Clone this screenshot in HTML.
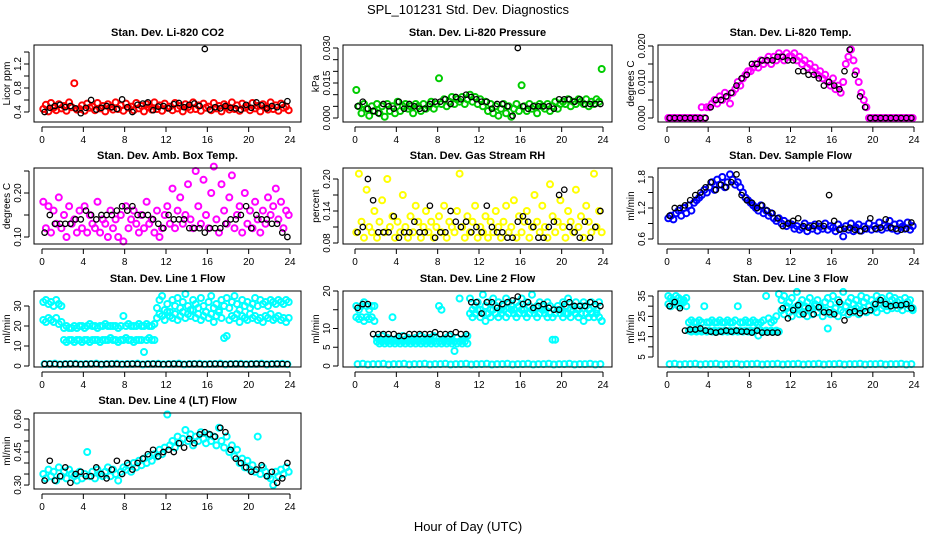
<!DOCTYPE html>
<html><head><meta charset="utf-8"><style>
body{margin:0;background:#fff}
svg{display:block;font-family:"Liberation Sans",Arial,sans-serif}
</style></head><body>
<svg id="chart" width="936" height="540" viewBox="0 0 936 540" xmlns="http://www.w3.org/2000/svg">
<text x="468" y="14" text-anchor="middle" font-size="13">SPL_101231  Std. Dev. Diagnostics</text>
<text x="468" y="531" text-anchor="middle" font-size="13">Hour of Day (UTC)</text>
</svg>
<script>
const xTicks=[0,4,8,12,16,20,24];
// Panel 1 CO2
const co2Col=[0.45,0.52,0.41,0.55,0.47,0.43,0.53,0.46,0.50,0.42,0.56,0.48,0.88,0.44,0.45,0.51,0.42,0.54,0.47,0.49,0.43,0.55,0.46,0.50,0.41,0.53,0.48,0.44,0.56,0.45,0.51,0.42,0.54,0.47,0.49,0.43,0.55,0.46,0.50,0.41,0.53,0.48,0.44,0.56,0.45,0.51,0.42,0.54,0.47,0.49,0.43,0.55,0.46,0.50,0.41,0.53,0.48,0.44,0.56,0.45,0.51,0.42,0.54,0.47,0.49,0.43,0.55,0.46,0.50,0.41,0.53,0.48,0.44,0.56,0.45,0.51,0.42,0.54,0.47,0.49,0.43,0.55,0.46,0.50,0.41,0.53,0.48,0.44,0.56,0.45,0.51,0.42,0.54,0.47,0.49,0.43];
const co2Blk=[0.40,0.47,0.50,0.52,0.48,0.50,0.46,0.38,0.47,0.60,0.44,0.47,0.50,0.48,0.45,0.61,0.48,0.40,0.52,0.54,0.56,0.43,0.49,0.50,0.46,0.53,0.55,0.48,0.52,0.54,0.50,1.45,0.44,0.48,0.46,0.50,0.47,0.46,0.44,0.52,0.47,0.56,0.51,0.46,0.50,0.48,0.52,0.58];
// Panel 2 pressure
const presCol=[0.012,0.005,0.002,0.006,0.004,0.001,0.005,0.003,0.006,0.002,0.005,0.0005,0.006,0.003,0.005,0.002,0.007,0.003,0.005,0.006,0.004,0.005,0.002,0.006,0.005,0.003,0.006,0.004,0.005,0.007,0.004,0.006,0.017,0.006,0.008,0.005,0.007,0.009,0.006,0.008,0.007,0.009,0.006,0.008,0.010,0.007,0.009,0.006,0.008,0.005,0.007,0.003,0.006,0.002,0.005,0.001,0.004,0.006,0.002,0.005,0.0005,0.004,0.006,0.003,0.014,0.005,0.003,0.006,0.004,0.005,0.002,0.006,0.005,0.004,0.006,0.003,0.005,0.007,0.004,0.006,0.007,0.006,0.008,0.005,0.007,0.006,0.008,0.007,0.006,0.008,0.005,0.007,0.006,0.008,0.007,0.021];
const presBlk=[0.005,0.007,0.004,0.003,0.002,0.006,0.005,0.004,0.007,0.004,0.006,0.005,0.004,0.004,0.006,0.007,0.007,0.008,0.006,0.009,0.008,0.010,0.009,0.008,0.007,0.007,0.004,0.006,0.006,0.005,0.001,0.030,0.005,0.004,0.005,0.005,0.005,0.005,0.004,0.008,0.008,0.008,0.007,0.008,0.006,0.006,0.006,0.006];
// Panel 3 Li-820 temp
const tempCol=[0,0,0,0,0,0,0,0,0,0,0,0,0,0.003,0,0.003,0.003,0.004,0.005,0.004,0.006,0.005,0.007,0.006,0.004,0.007,0.008,0.010,0.009,0.011,0.012,0.013,0.013,0.014,0.015,0.014,0.016,0.015,0.016,0.017,0.015,0.017,0.016,0.018,0.017,0.016,0.018,0.017,0.017,0.018,0.016,0.017,0.015,0.016,0.014,0.015,0.013,0.014,0.012,0.013,0.011,0.012,0.010,0.009,0.011,0.008,0.009,0.007,0.010,0.015,0.017,0.019,0.016,0.013,0.010,0.007,0.005,0.003,0,0,0,0,0,0,0,0,0,0,0,0,0,0,0,0,0,0];
const tempBlk=[0,0,0,0,0,0,0,0,0.003,0.005,0.005,0.006,0.007,0.009,0.011,0.012,0.015,0.015,0.016,0.016,0.016,0.017,0.017,0.016,0.016,0.013,0.013,0.012,0.012,0.011,0.009,0.010,0.009,0.008,0.013,0.019,0.012,0.006,0.003,0,0,0,0,0,0,0,0,0];
// Panel 4 amb box temp
const ambCol=[0.18,0.12,0.17,0.11,0.16,0.13,0.19,0.12,0.15,0.10,0.17,0.13,0.14,0.11,0.16,0.12,0.17,0.11,0.15,0.13,0.12,0.18,0.11,0.14,0.13,0.10,0.16,0.12,0.14,0.10,0.15,0.09,0.17,0.12,0.14,0.16,0.13,0.11,0.15,0.12,0.18,0.13,0.14,0.11,0.16,0.10,0.12,0.15,0.17,0.13,0.21,0.12,0.16,0.19,0.13,0.15,0.22,0.14,0.12,0.25,0.17,0.13,0.23,0.15,0.12,0.20,0.26,0.14,0.11,0.22,0.16,0.13,0.19,0.24,0.12,0.15,0.17,0.11,0.20,0.13,0.16,0.12,0.18,0.14,0.11,0.16,0.13,0.19,0.15,0.17,0.21,0.14,0.18,0.12,0.16,0.15];
const ambBlk=[0.11,0.15,0.13,0.13,0.13,0.13,0.14,0.14,0.16,0.15,0.14,0.15,0.15,0.15,0.16,0.17,0.16,0.17,0.15,0.15,0.15,0.14,0.13,0.12,0.15,0.14,0.14,0.14,0.12,0.12,0.12,0.11,0.12,0.12,0.12,0.13,0.14,0.14,0.15,0.17,0.12,0.15,0.14,0.14,0.13,0.13,0.11,0.10];
// Panel 5 RH
const rhCol=[0.10,0.21,0.12,0.09,0.18,0.11,0.10,0.14,0.09,0.12,0.16,0.10,0.20,0.11,0.13,0.09,0.12,0.10,0.17,0.11,0.09,0.13,0.10,0.15,0.12,0.09,0.11,0.14,0.10,0.12,0.09,0.11,0.13,0.10,0.15,0.09,0.12,0.11,0.10,0.14,0.21,0.11,0.09,0.13,0.10,0.12,0.15,0.09,0.11,0.10,0.13,0.09,0.12,0.10,0.14,0.11,0.09,0.12,0.15,0.10,0.11,0.16,0.09,0.13,0.10,0.12,0.14,0.09,0.11,0.17,0.12,0.10,0.15,0.11,0.09,0.19,0.13,0.10,0.12,0.16,0.11,0.09,0.14,0.12,0.10,0.18,0.11,0.13,0.09,0.15,0.12,0.10,0.21,0.11,0.14,0.10];
const rhBlk=[0.10,0.11,0.20,0.16,0.10,0.10,0.10,0.13,0.09,0.10,0.10,0.12,0.10,0.10,0.15,0.09,0.10,0.10,0.14,0.12,0.11,0.12,0.10,0.11,0.10,0.15,0.11,0.10,0.10,0.09,0.09,0.12,0.13,0.12,0.11,0.09,0.09,0.11,0.12,0.17,0.18,0.11,0.10,0.09,0.12,0.09,0.11,0.14];
// Panel 6 sample flow
const sfCol=[1.0,1.05,0.98,1.1,1.15,1.05,1.2,1.1,1.25,1.15,1.3,1.35,1.4,1.45,1.55,1.5,1.6,1.7,1.55,1.75,1.65,1.8,1.6,1.7,1.85,1.75,1.65,1.7,1.6,1.5,1.4,1.35,1.3,1.25,1.2,1.15,1.25,1.1,1.15,1.05,1.1,1.0,0.95,1.0,0.9,0.95,0.85,0.9,0.88,0.8,0.85,0.78,0.82,0.9,0.75,0.85,0.8,0.88,0.76,0.84,0.8,0.9,0.78,0.85,0.82,0.75,0.88,0.8,0.65,0.85,0.78,0.9,0.75,0.82,0.88,0.76,0.84,0.8,0.9,0.78,0.85,0.8,0.92,0.78,0.86,0.82,0.95,0.8,0.88,0.76,0.9,0.84,0.8,0.92,0.78,0.85];
const sfBlk=[1.05,1.2,1.2,1.25,1.35,1.45,1.5,1.6,1.7,1.55,1.65,1.6,1.7,1.85,1.45,1.35,1.3,1.2,1.25,1.15,1.1,1.0,0.85,0.9,0.95,1.0,0.85,0.82,0.85,0.9,0.85,1.45,0.95,0.78,0.8,0.82,0.78,0.75,0.8,1.0,0.8,0.82,0.98,0.82,0.8,0.78,0.8,0.92];
// Panel 7 line 1
const l1Hi=[32,33,31,32,30,33,31,30,19,20,19,19,20,19,20,20,19,20,21,20,20,19,20,20,21,20,20,20,20,19,20,25,20,21,20,20,20,21,20,20,21,20,20,21,29,33,35,28,31,27,33,30,34,29,32,36,30,28,33,31,29,34,30,27,32,35,29,31,28,33,30,34,29,32,35,31,28,33,30,32,29,31,34,30,33,31,32,30,33,32,31,33,32,31,33,32];
const l1Lo=[23,22,24,23,22,24,21,22,13,12,13,13,12,13,13,12,13,13,12,13,13,13,12,13,13,13,14,13,13,12,13,13,14,13,13,12,13,13,13,7,13,14,13,13,24,26,25,23,27,25,24,26,23,25,27,24,26,25,28,24,26,23,25,27,24,26,22,25,27,24,14,15,23,25,24,26,22,25,24,23,26,24,25,23,24,22,25,24,26,23,24,25,23,24,22,24];
const l1Base=[1,1,1.2,0.8,1,1,1.1,0.9,1,1,1.2,0.8,1,1,1.1,0.9,1,1,1.2,0.8,1,1,1.1,0.9,1,1,1.2,0.8,1,1,1.1,0.9,1,1,1.2,0.8,1,1,1.1,0.9,1,1,1.2,0.8,1,1,1.1,0.9];
const l1Blk=[1,1.1,1,0.9,1,1.1,1,0.9,1,1.1,1,0.9,1,1.1,1,0.9,1,1.1,1,0.9,1,1.1,1,0.9,1,1.1,1,0.9,1,1.1,1,0.9,1,1.1,1,0.9,1,1.1,1,0.9,1,1.1,1,0.9,1,1.1,1,0.9];
// Panel 8 line 2
const l2Hi=[16,15,16,17,16,15,16,16,7.5,7,8,7,7.5,7,13,7,7.5,7,8,7,7.5,7,7,7.5,7,8,7.5,7,7.5,7,8,7.5,16,15,7,7.5,8,7,4,7.5,18,7,7.5,8,18,15,16,17,15,19,16,17,15,18,16,17,15,16,18,17,16,15,17,16,18,15,17,16,19,15,16,17,16,15,17,16,7,7,16,15,17,16,18,15,16,17,15,16,17,16,15,17,16,15,17,12];
const l2Lo=[13,12.5,13,12,13,12.5,13,12,6.5,6,6.5,6,6.5,6,6.5,6,6.5,6,6.5,6,6.5,6,6.5,6,6.5,6,6.5,6,6.5,6,6.5,6,6.5,6,6.5,6,6.5,6,6.5,6,6.5,6,6.5,6,14,13,14,15,13,14,12,14,13,15,14,13,14,15,13,14,15,14,13,14,15,14,13,14,15,14,13,14,15,14,13,14,13,14,15,14,13,14,14,13,15,14,13,14,12,14,13,14,13,14,13,12];
const l2Base=[0.5,0.6,0.4,0.5,0.5,0.6,0.4,0.5,0.5,0.6,0.4,0.5,0.5,0.6,0.4,0.5,0.5,0.6,0.4,0.5,0.5,0.6,0.4,0.5,0.5,0.6,0.4,0.5,0.5,0.6,0.4,0.5,0.5,0.6,0.4,0.5,0.5,0.6,0.4,0.5,0.5,0.6,0.4,0.5,0.5,0.6,0.4,0.5];
const l2Blk=[15.5,16.5,16.5,8.5,8.5,8.5,8.5,8.5,8,8,8.5,8.5,8.5,8.5,8.5,9,8.5,8.5,8.5,9,8.5,8.5,17,17,14,17,17,15.5,16.5,17,17.5,18.5,16.5,17,15.5,16,16.5,15.5,15,15,16.5,17,16,16,16,17,16.5,16];
// Panel 9 line 3
const l3Hi=[35,34,33,35,34,33,32,34,22,23,22,22,23,22,30,22,22,23,22,22,23,22,22,23,22,22,23,30,22,22,23,22,22,23,22,21,22,23,35,24,22,23,25,36,33,35,30,32,34,29,37,31,33,30,32,34,29,31,33,30,28,32,34,31,35,29,33,31,37,30,32,34,31,33,30,35,32,34,30,33,31,35,33,34,32,30,35,33,34,32,33,31,34,32,33,29];
const l3Lo=[31,30,32,31,30,31,33,30,18,17.5,18,17.5,18,17.5,18,17.5,18,17.5,18,17.5,18,17.5,18,17.5,18,17.5,18,17.5,18,17.5,18,17.5,18,17.5,18,15.5,18,17.5,18,17.5,18,17.5,18,17.5,28,26,29,27,25,28,30,26,27,29,25,28,26,30,27,29,25,28,19,26,27,29,25,28,27,30,26,28,27,29,26,28,29,27,30,28,29,27,31,29,30,28,30,29,31,29,30,28,31,29,30,28];
const l3Base=[1.5,1.7,1.3,1.5,1.5,1.7,1.3,1.5,1.5,1.7,1.3,1.5,1.5,1.7,1.3,1.5,1.5,1.7,1.3,1.5,1.5,1.7,1.3,1.5,1.5,1.7,1.3,1.5,1.5,1.7,1.3,1.5,1.5,1.7,1.3,1.5,1.5,1.7,1.3,1.5,1.5,1.7,1.3,1.5,1.5,1.7,1.3,1.5];
const l3Blk=[30,32,29,18,18.5,18.5,19,18,17.5,17,17.5,18,17.5,18,17.5,17.5,17,18,17,17,17,17,29,24,28,30.5,26,29,26,29.5,27,27,26,32,23,27,27.5,26.5,27.5,28,31,33,31,30,30.5,30.5,31,29];
// Panel 10 line 4
const l4Col=[0.35,0.33,0.37,0.34,0.36,0.32,0.38,0.34,0.36,0.33,0.37,0.35,0.34,0.32,0.36,0.33,0.35,0.45,0.34,0.36,0.33,0.37,0.35,0.34,0.36,0.38,0.34,0.37,0.35,0.32,0.36,0.38,0.37,0.39,0.36,0.40,0.38,0.41,0.39,0.42,0.40,0.43,0.41,0.44,0.43,0.46,0.44,0.47,0.62,0.48,0.50,0.47,0.52,0.49,0.51,0.55,0.50,0.53,0.48,0.52,0.50,0.54,0.51,0.49,0.53,0.50,0.52,0.48,0.56,0.50,0.47,0.52,0.45,0.48,0.43,0.46,0.40,0.42,0.38,0.41,0.37,0.39,0.36,0.52,0.35,0.38,0.36,0.34,0.33,0.30,0.36,0.34,0.37,0.35,0.38,0.36];
const l4Blk=[0.32,0.41,0.32,0.34,0.38,0.31,0.35,0.36,0.34,0.34,0.38,0.35,0.33,0.37,0.41,0.35,0.40,0.37,0.40,0.42,0.44,0.46,0.43,0.45,0.46,0.45,0.49,0.47,0.51,0.49,0.53,0.54,0.53,0.52,0.56,0.54,0.46,0.42,0.40,0.38,0.36,0.37,0.39,0.34,0.36,0.31,0.33,0.40];

const NS='http://www.w3.org/2000/svg';
const svg=document.getElementById('chart');
const cols=[{l:34,r:301,x0:42,x1:290},{l:343,r:612,x0:355,x1:603},{l:658,r:923,x0:667,x1:914}];
const rows=[{t:45,b:122},{t:168,b:244},{t:291,b:367},{t:413,b:489}];
function mk(tag,attrs,parent){const e=document.createElementNS(NS,tag);for(const k in attrs)e.setAttribute(k,attrs[k]);(parent||svg).appendChild(e);return e;}
const panels=[
 {title:'Stan. Dev. Li-820 CO2',yl:'Licor ppm',c:0,r:0,lo:0.233,hi:1.517,ticks:[0.4,0.6,0.8,1.0,1.2,1.4],labs:['0.4','','0.8','','1.2',''],series:[[co2Col,'#ff0000'],[co2Blk,'#000']],name:'co2'},
 {title:'Stan. Dev. Li-820 Pressure',yl:'kPa',c:1,r:0,lo:-0.00171,hi:0.03129,ticks:[0,0.005,0.01,0.015,0.02,0.025,0.03],labs:['0.000','','','0.015','','','0.030'],series:[[presCol,'#00cc00'],[presBlk,'#000']],name:'pressure'},
 {title:'Stan. Dev. Li-820 Temp.',yl:'degrees C',c:2,r:0,lo:-0.00111,hi:0.02028,ticks:[0,0.005,0.01,0.015,0.02],labs:['0.000','','0.010','','0.020'],series:[[tempCol,'#ff00ff'],[tempBlk,'#000']],name:'li820-temp'},
 {title:'Stan. Dev. Amb. Box Temp.',yl:'degrees C',c:0,r:1,lo:0.0841,hi:0.2568,ticks:[0.1,0.15,0.2,0.25],labs:['0.10','','0.20',''],series:[[ambCol,'#ff00ff'],[ambBlk,'#000']],name:'amb-box-temp'},
 {title:'Stan. Dev. Gas Stream RH',yl:'percent',c:1,r:1,lo:0.0781,hi:0.2206,ticks:[0.08,0.11,0.14,0.17,0.2],labs:['0.08','','0.14','','0.20'],series:[[rhCol,'#ffff00'],[rhBlk,'#000']],name:'gas-stream-rh'},
 {title:'Stan. Dev. Sample Flow',yl:'ml/min',c:2,r:1,lo:0.503,hi:1.974,ticks:[0.6,0.9,1.2,1.5,1.8],labs:['0.6','','1.2','','1.8'],series:[[sfCol,'#0000ff'],[sfBlk,'#000']],name:'sample-flow'},
 {title:'Stan. Dev. Line 1 Flow',yl:'ml/min',c:0,r:2,lo:-0.5,hi:37.5,ticks:[0,10,20,30],labs:['0','10','20','30'],series:[[l1Hi,'#00ffff'],[l1Lo,'#00ffff'],[l1Base,'#00ffff'],[l1Blk,'#000']],name:'line1-flow'},
 {title:'Stan. Dev. Line 2 Flow',yl:'ml/min',c:1,r:2,lo:-0.27,hi:20,ticks:[0,5,10,15,20],labs:['0','5','10','','20'],series:[[l2Hi,'#00ffff'],[l2Lo,'#00ffff'],[l2Base,'#00ffff'],[l2Blk,'#000']],name:'line2-flow'},
 {title:'Stan. Dev. Line 3 Flow',yl:'ml/min',c:2,r:2,lo:0.08,hi:37.46,ticks:[5,10,15,20,25,30,35],labs:['5','','15','','25','','35'],series:[[l3Hi,'#00ffff'],[l3Lo,'#00ffff'],[l3Base,'#00ffff'],[l3Blk,'#000']],name:'line3-flow'},
 {title:'Stan. Dev. Line 4 (LT) Flow',yl:'ml/min',c:0,r:3,lo:0.282,hi:0.627,ticks:[0.3,0.35,0.4,0.45,0.5,0.55,0.6],labs:['0.30','','','0.45','','','0.60'],series:[[l4Col,'#00ffff'],[l4Blk,'#000']],name:'line4-flow'}
];
panels.forEach(p=>{
  const C=cols[p.c],R=rows[p.r];
  const g=mk('g',{});
  
  
  const xs=h=>C.x0+(h/24)*(C.x1-C.x0);
  const ys=v=>R.b-(v-p.lo)/(p.hi-p.lo)*(R.b-R.t);
  const t=mk('text',{x:(C.l+C.r)/2,y:R.t-9,'text-anchor':'middle','font-size':11,'font-weight':'bold'},g);
  t.textContent=p.title;
  
  
  p.series.forEach((s,si)=>{
    const arr=s[0],n=arr.length,isBlk=s[1]==='#000';
    const sg=mk('g',{fill:'none',stroke:s[1],'stroke-width':isBlk?1.3:2},g);
    
    
    arr.forEach((v,i)=>{
      const hr=24*(i+0.5)/n;
      const c=mk('circle',{cx:xs(hr).toFixed(1),cy:ys(v).toFixed(1),r:isBlk?2.7:3},sg);
      
      
    });
  });
  const box=mk('rect',{x:C.l,y:R.t,width:C.r-C.l,height:R.b-R.t,fill:'none',stroke:'#000','stroke-width':1},g);
  
  
  const xa=mk('g',{},g);
  
  
  mk('line',{x1:xs(0),x2:xs(24),y1:R.b+5,y2:R.b+5,stroke:'#000'},xa);
  xTicks.forEach(h=>{
    mk('line',{x1:xs(h),x2:xs(h),y1:R.b+5,y2:R.b+10,stroke:'#000'},xa);
    const tl=mk('text',{x:xs(h),y:R.b+21,'text-anchor':'middle','font-size':10},xa);
    tl.textContent=h;
    
    
  });
  const ya=mk('g',{},g);
  
  
  const ax=C.l-5;
  mk('line',{x1:ax,x2:ax,y1:ys(p.ticks[0]),y2:ys(p.ticks[p.ticks.length-1]),stroke:'#000'},ya);
  p.ticks.forEach((v,i)=>{
    const y=ys(v);
    mk('line',{x1:ax-5,x2:ax,y1:y,y2:y,stroke:'#000'},ya);
    if(p.labs[i]){
      const tl=mk('text',{x:ax-8,y:y,'text-anchor':'middle','font-size':10,transform:`rotate(-90 ${ax-8} ${y})`},ya);
      tl.textContent=p.labs[i];
      
      
    }
  });
  const yt=mk('text',{x:C.l-24,y:(R.t+R.b)/2,'text-anchor':'middle','font-size':10,transform:`rotate(-90 ${C.l-24} ${(R.t+R.b)/2})`},g);
  yt.textContent=p.yl;
  
  
});
</script>
</body></html>
